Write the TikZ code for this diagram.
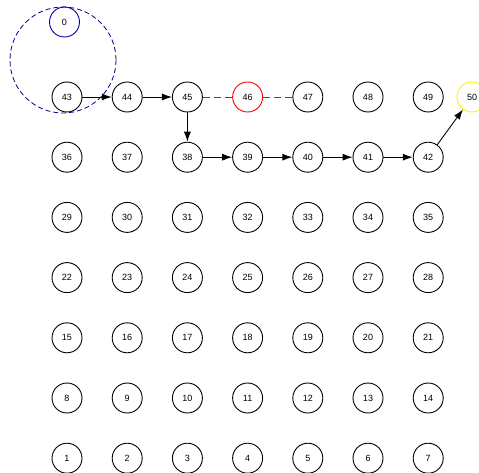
\documentclass[tikz,border=0pt]{standalone}
\usepackage{fontspec}
\setmainfont{Liberation Sans}
\usetikzlibrary{arrows.meta}
\begin{document}
\begin{tikzpicture}[x=1pt,y=-1pt,
  vert/.style={circle,draw=black,line width=0.9pt,minimum size=30pt,inner sep=0pt,font=\fontsize{9}{10}\selectfont},
  edge/.style={line width=0.9pt,-{Latex[length=10pt,width=7pt]}},
  redge/.style={line width=0.9pt,red,dash pattern=on 7pt off 4pt}]
\useasboundingbox (0,0) rectangle (479,473);
\fill[white] (0,0) rectangle (479,473);
\foreach \r in {0,...,6}{
  \foreach \c in {1,...,7}{
    \pgfmathtruncatemacro{\n}{(6-\r)*7+\c}
    \pgfmathsetmacro{\xx}{67+(\c-1)*60.2}
    \pgfmathsetmacro{\yy}{97+\r*60.2}
    \ifnum\n=46
      \node[vert,draw=red] (n\n) at (\xx,\yy) {\n};
    \else
      \node[vert] (n\n) at (\xx,\yy) {\n};
    \fi
  }
}
\node[vert,draw=yellow] (n50) at (472,97) {50};
\node[vert,draw=blue!70!black] (n0) at (64.5,22) {0};
\coordinate (c0) at (63,60);
\draw[blue!55!black,line width=0.8pt,dash pattern=on 5pt off 3pt] (c0) circle[radius=53];
\draw[edge] (n43) -- (n44);
\draw[edge] (n44) -- (n45);
\draw[edge] (n45) -- (n38);
\draw[edge] (n38) -- (n39);
\draw[edge] (n39) -- (n40);
\draw[edge] (n40) -- (n41);
\draw[edge] (n41) -- (n42);
\draw[edge] (n42) -- (n50);
\draw[redge] (n45) -- (n46);
\draw[redge] (n46) -- (n47);
\end{tikzpicture}
\end{document}
